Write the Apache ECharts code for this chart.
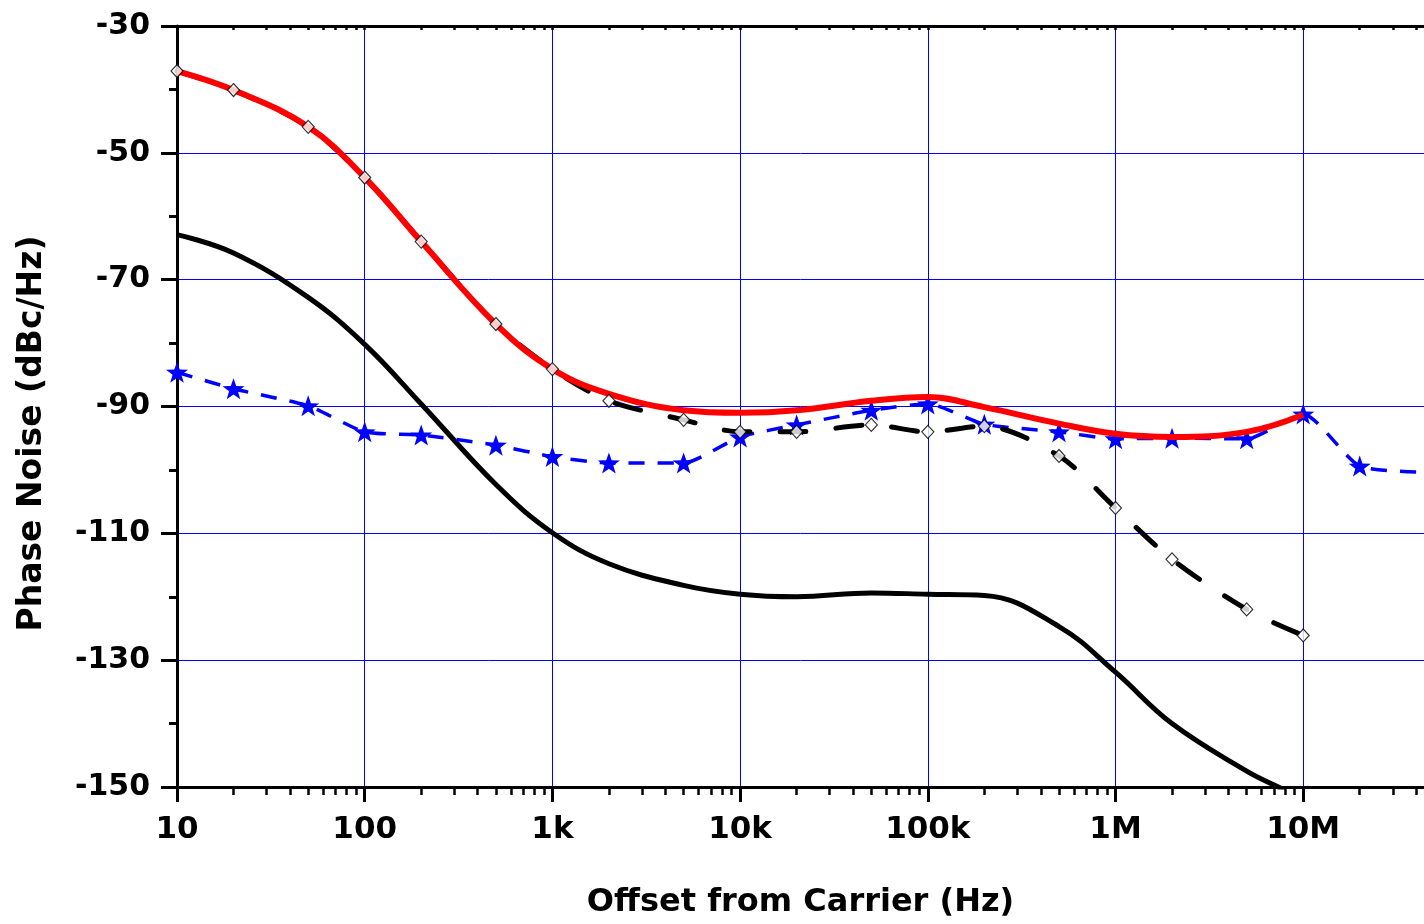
<!DOCTYPE html>
<html><head><meta charset="utf-8">
<script src="https://cdn.jsdelivr.net/npm/echarts@6/dist/echarts.min.js"></script>
<style>html,body{margin:0;padding:0;background:#fff;} #c{width:1424px;height:924px;}</style>
</head><body><div id="c"></div>
<script>
// ---- data ----
const redFreqs = [10,20,50,100,200,500,1e3,2e3,5e3,1e4,2e4,5e4,1e5,2e5,5e5,1e6,2e6,5e6,1e7];
const redVals = [-37.1,-40.1,-45.9,-53.9,-64.0,-77.0,-84.1,-88.0,-90.6,-91.0,-90.6,-89.1,-88.5,-90.1,-92.7,-94.3,-94.8,-94.0,-91.3];
const diamondFreqs = [10,20,50,100,200,500,1e3,2e3,5e3,1e4,2e4,5e4,1e5,2e5,5e5,1e6,2e6,5e6,1e7];
const diamondVals = [-37.1,-40.1,-45.9,-53.9,-64.0,-77.0,-84.1,-89.1,-92.1,-94.0,-94.0,-92.9,-94.0,-93.1,-97.8,-106.0,-114.1,-122.0,-126.1];
const starFreqs = [10,20,50,100,200,500,1e3,2e3,5e3,1e4,2e4,5e4,1e5,2e5,5e5,1e6,2e6,5e6,1e7,2e7,5e7];
const starVals = [-84.6,-87.2,-89.9,-94.0,-94.5,-96.1,-97.9,-98.9,-98.9,-94.8,-92.9,-90.6,-89.6,-92.8,-94.0,-95.1,-95.0,-95.1,-91.2,-99.4,-100.4];
const blackFreqs = [10,20,50,100,200,500,1e3,2e3,5e3,1e4,2e4,5e4,1e5,2e5,5e5,1e6,2e6,5e6,7e6,8e6];
const blackVals = [-62.9,-65.8,-72.8,-80.2,-89.6,-102.3,-109.9,-114.8,-118.2,-119.6,-120.0,-119.4,-119.6,-119.8,-124.7,-131.9,-140.0,-147.5,-149.7,-150.5];
const xTickValues = [10,100,1e3,1e4,1e5,1e6,1e7];
const xTickLabels = ['10','100','1k','10k','100k','1M','10M'];
const yMin = -150, yMax = -30, yStep = 20;
const xMin = 10, xMax = 4.4e7;
const xTitle = 'Offset from Carrier (Hz)';
const yTitle = 'Phase Noise (dBc/Hz)';

// ---- helpers ----
const pairs = (xs, ys) => xs.map((x, i) => [x, ys[i]]);
const minorVals = [];
xTickValues.forEach(d => { for (let k = 2; k <= 9; k++) { const v = d * k; if (v <= xMax) minorVals.push(v); } });
const labelMap = {};
xTickValues.forEach((v, i) => labelMap[v] = xTickLabels[i]);
const FONT = 'DejaVu Sans';
const starPath = 'path://M0,-10 L2.35,-3.24 L9.51,-3.09 L3.8,1.24 L5.88,8.09 L0,4 L-5.88,8.09 L-3.8,1.24 L-9.51,-3.09 L-2.35,-3.24 Z';

const chart = echarts.init(document.getElementById('c'), null, {renderer: 'canvas'});
const baseX = {type: 'log', logBase: 10, min: xMin, max: xMax, gridIndex: 0};
chart.setOption({
  animation: false,
  backgroundColor: '#fff',
  grid: {left: 177, top: 26, right: 0, bottom: 135, containLabel: false},
  xAxis: [
    Object.assign({}, baseX, {
      position: 'bottom',
      name: xTitle, nameLocation: 'middle', nameGap: 100,
      nameTextStyle: {fontFamily: FONT, fontWeight: 'bold', fontSize: 32, color: '#000'},
      axisLine: {show: true, onZero: false, lineStyle: {color: '#000', width: 3}},
      axisTick: {show: true, inside: false, length: 15, customValues: xTickValues, lineStyle: {color: '#000', width: 3}},
      axisLabel: {show: true, customValues: xTickValues, margin: 27, fontFamily: FONT, fontWeight: 'bold', fontSize: 31, color: '#000',
        formatter: v => labelMap[v] !== undefined ? labelMap[v] : ''},
      splitLine: {show: true, lineStyle: {color: '#0000FF', width: 1}},
      minorTick: {show: false}, minorSplitLine: {show: false}
    }),
    Object.assign({}, baseX, {
      position: 'bottom',
      axisLine: {show: false, onZero: false},
      axisTick: {show: true, inside: false, length: 8, customValues: minorVals, lineStyle: {color: '#000', width: 2.5}},
      axisLabel: {show: false},
      splitLine: {show: false}
    }),
    Object.assign({}, baseX, {
      position: 'top',
      axisLine: {show: true, onZero: false, lineStyle: {color: '#000', width: 3}},
      axisTick: {show: true, inside: true, length: 4, customValues: xTickValues.concat(minorVals), lineStyle: {color: '#000', width: 2.5}},
      axisLabel: {show: false},
      splitLine: {show: false}
    })
  ],
  yAxis: [{
    type: 'value', min: yMin, max: yMax, interval: yStep,
    name: yTitle, nameLocation: 'middle', nameGap: 128,
    nameTextStyle: {fontFamily: FONT, fontWeight: 'bold', fontSize: 33, color: '#000', padding: [0, 54, 0, 0]},
    axisLine: {show: true, onZero: false, lineStyle: {color: '#000', width: 3}},
    axisTick: {show: true, inside: false, length: 16, lineStyle: {color: '#000', width: 3}},
    minorTick: {show: true, splitNumber: 2, length: 8, lineStyle: {color: '#000', width: 3}},
    axisLabel: {show: true, margin: 27, fontFamily: FONT, fontWeight: 'bold', fontSize: 30, color: '#000'},
    splitLine: {show: true, lineStyle: {color: '#0000FF', width: 1}},
    minorSplitLine: {show: false}
  }],
  series: [
    {type: 'line', name: 'black', data: pairs(blackFreqs, blackVals), smooth: 0.4, showSymbol: false, symbol: 'none', z: 2,
      lineStyle: {color: '#000', width: 5}},
    {type: 'line', name: 'stars', data: pairs(starFreqs, starVals), smooth: 0.2, z: 3,
      symbol: starPath, symbolSize: [22, 21], showSymbol: true,
      itemStyle: {color: '#0000FF', borderWidth: 0},
      lineStyle: {color: '#0000FF', width: 3.5, type: [16, 13]}},
    {type: 'line', name: 'dashed', data: pairs(diamondFreqs, diamondVals), smooth: 0.3, showSymbol: false, symbol: 'none', z: 4,
      lineStyle: {color: '#000', width: 5, type: [26, 30], cap: 'round'}},
    {type: 'line', name: 'red', data: pairs(redFreqs, redVals), smooth: 0.4, showSymbol: false, symbol: 'none', z: 5,
      lineStyle: {color: '#FF0000', width: 6}},
    {type: 'scatter', name: 'diamonds', data: pairs(diamondFreqs, diamondVals), z: 6,
      symbol: 'diamond', symbolSize: [12, 13],
      itemStyle: {color: '#fff', borderColor: '#000', borderWidth: 1.2}}
  ]
});
</script></body></html>
